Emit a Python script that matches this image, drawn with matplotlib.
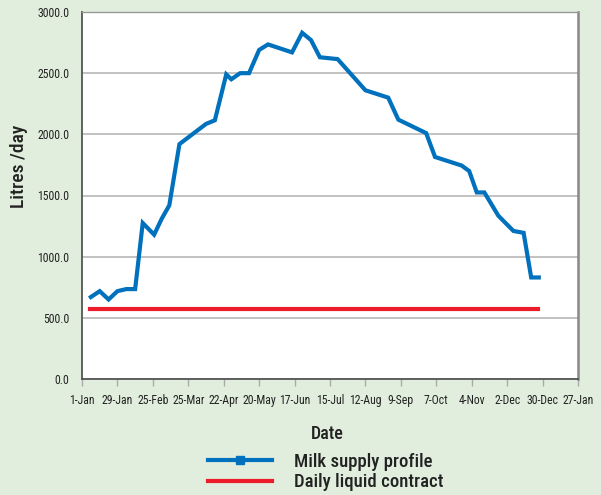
import matplotlib
matplotlib.use("Agg")
import matplotlib.pyplot as plt
from matplotlib.lines import Line2D

# ---- data ----
tick_labels = ["1-Jan", "29-Jan", "25-Feb", "25-Mar", "22-Apr", "20-May", "17-Jun",
               "15-Jul", "12-Aug", "9-Sep", "7-Oct", "4-Nov", "2-Dec", "30-Dec", "27-Jan"]
supply_days = [7, 14, 21, 28, 35, 42, 48, 57, 63, 69, 77, 98, 105, 114, 118, 125, 132,
               140, 147, 166, 174, 181, 188, 202, 224, 242, 250, 272, 279, 300, 306,
               312, 318, 329, 341, 349, 355, 361]
supply_litres = [670, 718, 650, 718, 735, 735, 1275, 1180, 1310, 1420, 1920, 2085, 2115,
                 2490, 2450, 2500, 2500, 2690, 2735, 2670, 2830, 2770, 2630, 2615, 2360,
                 2300, 2120, 2010, 1815, 1745, 1700, 1525, 1525, 1335, 1210, 1195, 830, 830]
contract_days = [6, 360]
contract_litres = [570, 570]

bg = "#E1EEDD"
blue = "#0071BC"
red = "#EC1C2A"
txt = "#222222"

plt.rcParams["font.family"] = ["Roboto Condensed", "DejaVu Sans"]

fig = plt.figure(figsize=(6.01, 4.95), dpi=100, facecolor=bg)
ax = fig.add_axes([82/601, 1 - 379/495, (578-82)/601, (379-12)/495])
ax.set_facecolor("white")

ax.plot(supply_days, supply_litres, color=blue, lw=3.0, solid_joinstyle="miter", zorder=3)
ax.plot(contract_days, contract_litres, color=red, lw=3.0, zorder=3)

ax.set_ylim(0, 3000)
ax.set_yticks(range(0, 3001, 500))
ax.set_yticklabels([f"{v:.1f}" for v in range(0, 3001, 500)], fontsize=8.5, color=txt)
ax.set_xlim(0, 28 * (len(tick_labels) - 1))
ax.set_xticks([28 * i for i in range(len(tick_labels))])
ax.set_xticklabels(tick_labels, fontsize=8.5, color=txt)
ax.grid(axis="y", color="#BDBDBD", lw=1.3)
ax.set_axisbelow(True)

ax.tick_params(axis="x", direction="out", length=5, width=1, color="#AAAAAA", pad=6)
ax.tick_params(axis="y", length=0, pad=9)
for s in ["left", "bottom"]:
    ax.spines[s].set_color("#555555")
    ax.spines[s].set_linewidth(1.3)
ax.spines["top"].set_color("#999999")
ax.spines["top"].set_linewidth(1.0)
ax.spines["right"].set_color("#888888")
ax.spines["right"].set_linewidth(1.8)

ax.set_ylabel("Litres /day", fontsize=14, color=txt, fontweight="medium")
ax.yaxis.set_label_coords((28 - 82) / 496, (379 - 166) / 367)
fig.text(327/601, 1 - 434/495, "Date", ha="center", va="center", fontsize=13,
         color=txt, fontweight="medium")

handles = [Line2D([], [], color=blue, lw=3.0, marker="s", markersize=6),
           Line2D([], [], color=red, lw=3.0)]
fig.legend(handles, ["Milk supply profile", "Daily liquid contract"],
           loc="center left", bbox_to_anchor=(208/601, 1 - 472/495), frameon=False,
           borderpad=0, borderaxespad=0,
           prop={"size": 13.5, "weight": "medium"}, handlelength=3.4, handletextpad=1.2,
           labelspacing=0.15, labelcolor=txt)

fig.savefig("out.png", dpi=100, facecolor=bg)
